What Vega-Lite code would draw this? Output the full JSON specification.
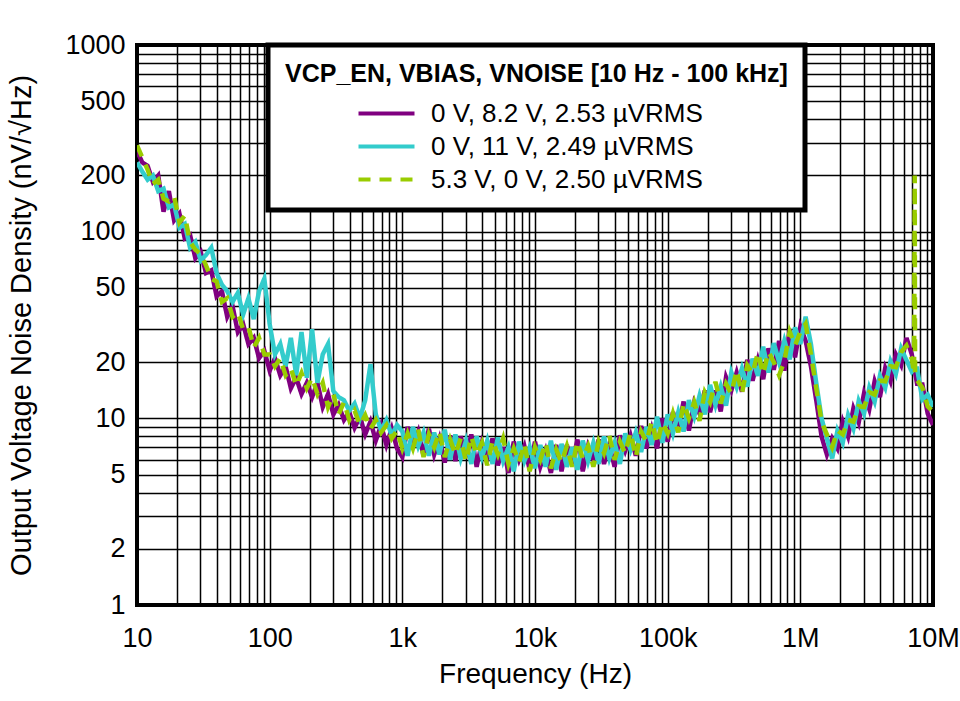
{
"$schema": "https://vega.github.io/schema/vega-lite/v6.json",
"width": 796, "height": 560,
"autosize": {"type": "none"},
"padding": {"left": 137, "top": 45, "right": 27, "bottom": 96},
"background": "white",
"config": {
  "font": "Liberation Sans",
  "view": {"stroke": "black", "strokeWidth": 4},
  "axis": {"grid": true, "gridColor": "black", "gridWidth": 1.5, "gridOpacity": 1, "ticks": false, "domain": false,
    "labelFont": "Liberation Sans", "titleFont": "Liberation Sans", "labelColor": "black", "titleColor": "black",
    "labelFontSize": 27, "titleFontSize": 28, "titleFontWeight": "normal", "labelOverlap": false, "labelFlush": false, "labelBound": false}
},
"data": {"values": [
{"f":10,"a":270,"b":235,"c":290},
{"f":10.96,"a":235,"b":210,"c":250},
{"f":12.02,"a":225,"b":190,"c":215},
{"f":13.18,"a":185,"b":200,"c":180},
{"f":14.45,"a":200,"b":165,"c":190},
{"f":15.85,"a":128,"b":170,"c":150},
{"f":17.38,"a":165,"b":135,"c":145},
{"f":19.05,"a":115,"b":140,"c":155},
{"f":20.89,"a":125,"b":105,"c":112},
{"f":22.91,"a":92,"b":110,"c":122},
{"f":25.12,"a":96,"b":82,"c":88},
{"f":27.54,"a":72,"b":88,"c":80},
{"f":30.2,"a":78,"b":70,"c":76},
{"f":33.11,"a":60,"b":75,"c":66},
{"f":36.31,"a":62,"b":82,"c":56},
{"f":39.81,"a":45,"b":60,"c":54},
{"f":43.65,"a":48,"b":52,"c":42},
{"f":47.86,"a":35,"b":48,"c":44},
{"f":52.48,"a":40,"b":42,"c":35},
{"f":57.54,"a":29,"b":47,"c":37},
{"f":63.1,"a":32,"b":36,"c":30},
{"f":69.18,"a":25,"b":44,"c":31},
{"f":75.86,"a":27,"b":34,"c":24},
{"f":83.18,"a":21,"b":48,"c":27},
{"f":91.2,"a":23,"b":56,"c":22},
{"f":100,"a":18,"b":32,"c":22},
{"f":109.6,"a":21,"b":22,"c":19},
{"f":120.2,"a":17,"b":25,"c":21},
{"f":131.8,"a":19,"b":19,"c":17},
{"f":144.5,"a":14.5,"b":27,"c":18.5},
{"f":158.5,"a":16.5,"b":17,"c":15},
{"f":173.8,"a":13.5,"b":29,"c":17.5},
{"f":190.5,"a":15.5,"b":16.5,"c":14.5},
{"f":208.9,"a":13,"b":30,"c":16.5},
{"f":229.1,"a":15.5,"b":15.5,"c":13.5},
{"f":251.2,"a":11.5,"b":22,"c":15.5},
{"f":275.4,"a":13.5,"b":25,"c":11.5},
{"f":302,"a":10.5,"b":14,"c":13.5},
{"f":331.1,"a":11.8,"b":13,"c":10.5},
{"f":363.1,"a":9.8,"b":12.5,"c":12.2},
{"f":398.1,"a":10.8,"b":11,"c":9.8},
{"f":436.5,"a":8.9,"b":12,"c":11},
{"f":478.6,"a":10.2,"b":10,"c":9.2},
{"f":524.8,"a":8.2,"b":12.5,"c":10.4},
{"f":575.4,"a":9.6,"b":19.5,"c":8.8},
{"f":631,"a":7.6,"b":10.5,"c":9.8},
{"f":691.8,"a":9.2,"b":8.6,"c":8.4},
{"f":758.6,"a":7.2,"b":9.8,"c":9.2},
{"f":831.8,"a":8.8,"b":8.1,"c":7.8},
{"f":912,"a":6.9,"b":9.2,"c":8.6},
{"f":1000,"a":6.2,"b":8.5,"c":6.9},
{"f":1096,"a":9.0,"b":6.3,"c":8.3},
{"f":1202,"a":7.2,"b":9.0,"c":6.9},
{"f":1318,"a":8.5,"b":7.1,"c":8.7},
{"f":1445,"a":6.3,"b":8.4,"c":6.2},
{"f":1585,"a":8.8,"b":6.3,"c":8.2},
{"f":1738,"a":6.4,"b":8.4,"c":7.0},
{"f":1905,"a":7.8,"b":6.4,"c":8.5},
{"f":2089,"a":5.8,"b":8.7,"c":6.2},
{"f":2291,"a":8.1,"b":6.0,"c":7.7},
{"f":2512,"a":5.9,"b":8.2,"c":6.4},
{"f":2754,"a":8.0,"b":6.1,"c":7.8},
{"f":3020,"a":6.2,"b":7.6,"c":5.9},
{"f":3311,"a":8.2,"b":5.7,"c":8.0},
{"f":3631,"a":5.5,"b":8.0,"c":6.4},
{"f":3981,"a":7.4,"b":6.2,"c":7.4},
{"f":4365,"a":6.1,"b":7.6,"c":5.6},
{"f":4786,"a":7.8,"b":5.7,"c":7.6},
{"f":5248,"a":5.6,"b":7.9,"c":6.4},
{"f":5754,"a":7.0,"b":5.9,"c":7.8},
{"f":6310,"a":5.1,"b":7.0,"c":5.7},
{"f":6918,"a":7.5,"b":5.2,"c":6.9},
{"f":7586,"a":6.0,"b":7.5,"c":5.8},
{"f":8318,"a":7.1,"b":5.9,"c":7.3},
{"f":9120,"a":5.3,"b":7.0,"c":5.2},
{"f":10000,"a":7.5,"b":5.4,"c":7.0},
{"f":10960,"a":5.5,"b":7.2,"c":6.0},
{"f":12020,"a":6.7,"b":5.5,"c":7.4},
{"f":13180,"a":5.1,"b":7.6,"c":5.4},
{"f":14450,"a":7.2,"b":5.3,"c":6.8},
{"f":15850,"a":5.2,"b":7.3,"c":5.8},
{"f":17380,"a":7.2,"b":5.5,"c":7.1},
{"f":19050,"a":5.7,"b":7.0,"c":5.5},
{"f":20890,"a":7.7,"b":5.3,"c":7.5},
{"f":22910,"a":5.2,"b":7.6,"c":6.1},
{"f":25120,"a":7.1,"b":5.9,"c":7.1},
{"f":27540,"a":6.0,"b":7.4,"c":5.5},
{"f":30200,"a":7.7,"b":5.7,"c":7.5},
{"f":33110,"a":5.7,"b":8.0,"c":6.5},
{"f":36310,"a":7.2,"b":6.1,"c":8.1},
{"f":39810,"a":5.5,"b":7.4,"c":6.0},
{"f":43650,"a":8.1,"b":5.7,"c":7.5},
{"f":47860,"a":6.7,"b":8.3,"c":6.5},
{"f":52480,"a":8.1,"b":6.8,"c":8.4},
{"f":57540,"a":6.3,"b":8.4,"c":6.2},
{"f":63100,"a":9.1,"b":6.6,"c":8.5},
{"f":69180,"a":6.9,"b":9.0,"c":7.5},
{"f":75860,"a":8.8,"b":7.2,"c":9.6},
{"f":83180,"a":6.9,"b":10.2,"c":7.3},
{"f":91200,"a":10.0,"b":7.4,"c":9.5},
{"f":100000,"a":7.5,"b":10.5,"c":8.3},
{"f":109600,"a":10.8,"b":8.3,"c":10.6},
{"f":120200,"a":8.8,"b":10.8,"c":8.4},
{"f":131800,"a":12.3,"b":8.5,"c":12.0},
{"f":144500,"a":8.6,"b":12.5,"c":10.0},
{"f":158500,"a":12.2,"b":10.2,"c":12.2},
{"f":173800,"a":10.6,"b":13.2,"c":9.7},
{"f":190500,"a":14.1,"b":10.5,"c":13.8},
{"f":208900,"a":10.8,"b":15.1,"c":12.2},
{"f":229100,"a":14.1,"b":11.8,"c":15.7},
{"f":251200,"a":10.9,"b":14.8,"c":12.0},
{"f":275400,"a":16.6,"b":11.7,"c":15.3},
{"f":302000,"a":14.1,"b":17.6,"c":13.6},
{"f":331100,"a":17.6,"b":14.7,"c":18.1},
{"f":363100,"a":13.9,"b":18.5,"c":13.6},
{"f":398100,"a":20.6,"b":14.8,"c":19.2},
{"f":436500,"a":15.9,"b":20.9,"c":17.4},
{"f":478600,"a":20.6,"b":16.9,"c":22.5},
{"f":524800,"a":16.2,"b":24.2,"c":17.3},
{"f":575400,"a":23.7,"b":17.6,"c":22.7},
{"f":631000,"a":18.2,"b":25.3,"c":20.0},
{"f":691800,"a":26.0,"b":20.0,"c":17.0},
{"f":758600,"a":18.0,"b":26.1,"c":20.3},
{"f":831800,"a":29.9,"b":20.7,"c":29.1},
{"f":912000,"a":21.2,"b":30.7,"c":24.6},
{"f":1000000,"a":31,"b":25,"c":29},
{"f":1096000,"a":26,"b":35,"c":32},
{"f":1202000,"a":19,"b":25,"c":22},
{"f":1318000,"a":12.5,"b":15.5,"c":14.5},
{"f":1445000,"a":8.0,"b":10,"c":9.6},
{"f":1585000,"a":6.4,"b":7.8,"c":8.2},
{"f":1738000,"a":7.8,"b":6.1,"c":7.0},
{"f":1905000,"a":6.9,"b":8.6,"c":8.6},
{"f":2089000,"a":9.6,"b":7.4,"c":8.2},
{"f":2291000,"a":8.0,"b":10.4,"c":9.8},
{"f":2512000,"a":11.3,"b":8.8,"c":9.6},
{"f":2754000,"a":9.5,"b":12.4,"c":11.6},
{"f":3020000,"a":13.6,"b":10.6,"c":11.5},
{"f":3311000,"a":11.2,"b":14.6,"c":13.8},
{"f":3631000,"a":15.8,"b":12.3,"c":13.4},
{"f":3981000,"a":13.0,"b":16.9,"c":15.9},
{"f":4365000,"a":18.6,"b":14.6,"c":15.8},
{"f":4786000,"a":15.8,"b":20.2,"c":19.0},
{"f":5248000,"a":22.0,"b":17.3,"c":18.8},
{"f":5754000,"a":19.3,"b":23.7,"c":22.6},
{"f":6310000,"a":27,"b":20.5,"c":24.5},
{"f":6918000,"a":22,"b":17.8,"c":20.8},
{"f":7200000,"a":19,"b":18.5,"c":17.5},
{"f":7280000,"c":200},
{"f":7330000,"c":17},
{"f":7586000,"a":15.3,"b":18.5,"c":16},
{"f":8318000,"a":15.2,"b":12.6,"c":14.6},
{"f":9120000,"a":10.6,"b":13.4,"c":11.6},
{"f":10000000,"a":9.2,"b":11.5,"c":10.8}
]},
"transform": [
  {"fold": ["a", "b", "c"], "as": ["s", "v"]},
  {"filter": {"field": "v", "valid": true}}
],
"mark": {"type": "line", "strokeWidth": 4.5, "clip": true},
"encoding": {
  "x": {"field": "f", "type": "quantitative",
    "scale": {"type": "log", "domain": [10, 10000000], "nice": false},
    "axis": {"title": "Frequency (Hz)", "labelPadding": 20, "titlePadding": 9,
      "values": [10,20,30,40,50,60,70,80,90,100,200,300,400,500,600,700,800,900,1000,2000,3000,4000,5000,6000,7000,8000,9000,10000,20000,30000,40000,50000,60000,70000,80000,90000,100000,200000,300000,400000,500000,600000,700000,800000,900000,1000000,2000000,3000000,4000000,5000000,6000000,7000000,8000000,9000000,10000000],
      "labelExpr": "datum.value == 10 ? '10' : datum.value == 100 ? '100' : datum.value == 1000 ? '1k' : datum.value == 10000 ? '10k' : datum.value == 100000 ? '100k' : datum.value == 1000000 ? '1M' : datum.value == 10000000 ? '10M' : ''"}},
  "y": {"field": "v", "type": "quantitative",
    "scale": {"type": "log", "domain": [1, 1000], "nice": false},
    "axis": {"title": "Output Voltage Noise Density (nV/√Hz)", "titleFontSize": 29, "labelPadding": 12, "titlePadding": 28,
      "values": [1,2,3,4,5,6,7,8,9,10,20,30,40,50,60,70,80,90,100,200,300,400,500,600,700,800,900,1000],
      "labelExpr": "indexof([1,2,5,10,20,50,100,200,500,1000], datum.value) >= 0 ? format(datum.value, 'd') : ''"}},
  "color": {"field": "s", "type": "nominal",
    "scale": {"domain": ["a", "b", "c"], "range": ["#800080", "#33CCCC", "#99CC00"]},
    "legend": {"orient": "none", "legendX": 131, "legendY": 0,
      "title": "VCP_EN, VBIAS, VNOISE [10 Hz - 100 kHz]", "titleFontSize": 25, "titleFontWeight": "bold", "titleColor": "black", "titleFont": "Liberation Sans", "titlePadding": 7, "titleLimit": 700,
      "labelFontSize": 26, "labelColor": "black", "labelFont": "Liberation Sans", "labelLimit": 500, "labelOffset": 25,
      "labelExpr": "datum.label == 'a' ? '0 V, 8.2 V, 2.53 µVRMS' : datum.label == 'b' ? '0 V, 11 V, 2.49 µVRMS' : '5.3 V, 0 V, 2.50 µVRMS'",
      "symbolType": "M-1.6,0H1.6", "symbolSize": 1225, "symbolStrokeWidth": 4, "symbolOffset": 82,
      "rowPadding": -1, "padding": 17, "fillColor": "white", "strokeColor": "black",
      "encode": {"legend": {"update": {"strokeWidth": {"value": 5}}}}}},
  "strokeDash": {"field": "s", "type": "nominal",
    "scale": {"domain": ["a", "b", "c"], "range": [[1, 0], [1, 0], [12, 9]]},
    "legend": {"orient": "none", "legendX": 131, "legendY": 0,
      "title": "VCP_EN, VBIAS, VNOISE [10 Hz - 100 kHz]", "titleFontSize": 25, "titleFontWeight": "bold", "titleColor": "black", "titleFont": "Liberation Sans", "titlePadding": 7, "titleLimit": 700,
      "labelFontSize": 26, "labelColor": "black", "labelFont": "Liberation Sans", "labelLimit": 500, "labelOffset": 25,
      "labelExpr": "datum.label == 'a' ? '0 V, 8.2 V, 2.53 µVRMS' : datum.label == 'b' ? '0 V, 11 V, 2.49 µVRMS' : '5.3 V, 0 V, 2.50 µVRMS'",
      "symbolType": "M-1.6,0H1.6", "symbolSize": 1225, "symbolStrokeWidth": 4, "symbolOffset": 82,
      "rowPadding": -1, "padding": 17, "fillColor": "white", "strokeColor": "black",
      "encode": {"legend": {"update": {"strokeWidth": {"value": 5}}}}}}
}
}
